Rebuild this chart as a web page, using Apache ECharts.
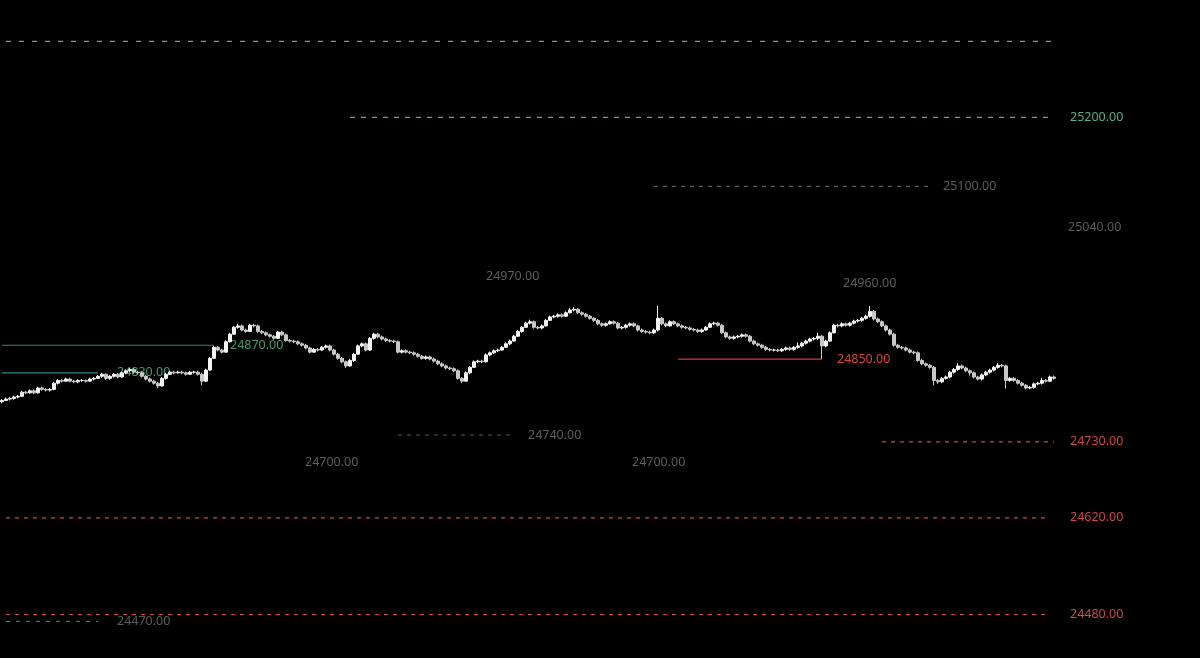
<!DOCTYPE html>
<html>
<head>
<meta charset="utf-8">
<title>candles</title>
<script src="https://cdn.jsdelivr.net/npm/echarts@6/dist/echarts.min.js"></script>
<style>
  html, body { margin: 0; padding: 0; background: #000; }
  #chart { width: 1200px; height: 658px; }
</style>
</head>
<body>
<div id="chart"></div>
<script>
// candles: [open, close, low, high]
const ohlc = [
  [24788,24790,24786,24792],[24790,24792,24789,24794],[24792,24793,24790,24795],[24793,24795,24791,24797],
  [24795,24796,24793,24798],[24796,24802,24795,24804],[24802,24801,24799,24804],[24801,24804,24800,24806],
  [24804,24801,24799,24806],[24801,24808,24800,24810],[24808,24806,24804,24810],[24806,24805,24803,24808],
  [24805,24806,24803,24808],[24806,24815,24805,24817],[24815,24819,24813,24821],[24819,24818,24816,24821],
  [24818,24821,24817,24823],[24821,24818,24816,24823],[24818,24817,24815,24820],[24817,24819,24815,24821],
  [24819,24819,24817,24821],[24819,24818,24816,24820],[24818,24821,24817,24823],[24821,24822,24819,24824],
  [24822,24825,24821,24827],[24825,24828,24823,24830],[24828,24822,24820,24829],[24822,24825,24820,24827],
  [24825,24828,24823,24830],[24828,24824,24822,24830],[24824,24830,24823,24832],[24830,24833,24828,24835],
  [24833,24835,24831,24837],[24835,24831,24829,24837],[24831,24830,24828,24833],[24830,24825,24823,24832],
  [24825,24821,24819,24827],[24821,24818,24816,24823],[24818,24815,24813,24820],[24815,24811,24808,24817],
  [24811,24822,24810,24824],[24822,24828,24820,24830],[24828,24831,24827,24833],[24831,24830,24828,24833],
  [24830,24831,24829,24833],[24831,24830,24828,24833],[24830,24828,24826,24832],[24828,24831,24827,24833],
  [24831,24831,24829,24833],[24831,24828,24826,24833],[24828,24818,24812,24830],[24818,24834,24817,24836],
  [24834,24851,24833,24853],[24851,24867,24850,24869],[24867,24863,24861,24869],[24863,24860,24858,24865],
  [24860,24875,24859,24877],[24875,24886,24874,24888],[24886,24896,24885,24898],[24896,24898,24894,24901],
  [24898,24892,24890,24900],[24892,24890,24888,24894],[24890,24899,24889,24901],[24899,24898,24896,24901],
  [24898,24890,24888,24900],[24890,24888,24886,24892],[24888,24885,24883,24890],[24885,24883,24881,24887],
  [24883,24880,24878,24885],[24880,24889,24879,24891],[24889,24885,24883,24891],[24885,24877,24875,24887],
  [24877,24876,24874,24879],[24876,24875,24873,24878],[24875,24872,24870,24877],[24872,24870,24868,24874],
  [24870,24866,24864,24872],[24866,24860,24858,24868],[24860,24864,24859,24866],[24864,24863,24861,24866],
  [24863,24867,24862,24869],[24867,24869,24865,24871],[24869,24863,24861,24871],[24863,24857,24855,24865],
  [24857,24851,24849,24859],[24851,24846,24844,24853],[24846,24840,24837,24848],[24840,24848,24839,24850],
  [24848,24857,24846,24859],[24857,24869,24856,24871],[24869,24872,24867,24874],[24872,24863,24861,24874],
  [24863,24880,24862,24882],[24880,24886,24878,24888],[24886,24882,24880,24888],[24882,24879,24877,24884],
  [24879,24877,24875,24881],[24877,24876,24874,24879],[24876,24875,24873,24878],[24875,24860,24858,24877],
  [24860,24862,24858,24864],[24862,24860,24858,24864],[24860,24859,24857,24862],[24859,24857,24855,24861],
  [24857,24854,24852,24859],[24854,24851,24849,24856],[24851,24853,24849,24855],[24853,24850,24848,24855],
  [24850,24847,24845,24852],[24847,24843,24841,24849],[24843,24840,24838,24845],[24840,24837,24835,24842],
  [24837,24836,24834,24839],[24836,24833,24831,24838],[24833,24822,24820,24835],[24822,24818,24815,24824],
  [24818,24830,24817,24832],[24830,24838,24828,24840],[24838,24846,24837,24848],[24846,24847,24844,24849],
  [24847,24846,24844,24849],[24846,24856,24845,24858],[24856,24859,24854,24861],[24859,24862,24857,24864],
  [24862,24863,24860,24865],[24863,24867,24862,24869],[24867,24872,24866,24874],[24872,24876,24870,24878],
  [24876,24883,24875,24885],[24883,24890,24882,24892],[24890,24896,24888,24898],[24896,24902,24895,24904],
  [24902,24904,24900,24907],[24904,24896,24894,24906],[24896,24895,24893,24898],[24895,24898,24893,24900],
  [24898,24906,24897,24908],[24906,24911,24905,24913],[24911,24912,24909,24914],[24912,24914,24910,24916],
  [24914,24912,24910,24916],[24912,24917,24911,24919],[24917,24921,24916,24924],[24921,24922,24919,24925],
  [24922,24917,24915,24924],[24917,24915,24913,24919],[24915,24912,24910,24917],[24912,24909,24907,24914],
  [24909,24906,24904,24911],[24906,24901,24899,24908],[24901,24899,24897,24903],[24899,24901,24897,24903],
  [24901,24904,24900,24906],[24904,24902,24900,24906],[24902,24895,24893,24904],[24895,24896,24893,24898],
  [24896,24899,24894,24901],[24899,24901,24897,24903],[24901,24898,24896,24903],[24898,24892,24890,24900],
  [24892,24890,24888,24894],[24890,24889,24887,24892],[24889,24888,24886,24891],[24888,24892,24886,24894],
  [24892,24909,24890,24927],[24909,24901,24899,24911],[24901,24898,24896,24903],[24898,24904,24897,24906],
  [24904,24901,24899,24906],[24901,24898,24896,24903],[24898,24896,24894,24900],[24896,24895,24893,24898],
  [24895,24893,24891,24897],[24893,24892,24890,24895],[24892,24890,24888,24894],[24890,24892,24888,24894],
  [24892,24896,24891,24898],[24896,24901,24895,24903],[24901,24902,24899,24904],[24902,24899,24897,24904],
  [24899,24888,24886,24901],[24888,24882,24880,24890],[24882,24880,24878,24884],[24880,24882,24878,24884],
  [24882,24883,24880,24885],[24883,24885,24881,24887],[24885,24883,24881,24887],[24883,24876,24874,24885],
  [24876,24872,24870,24878],[24872,24870,24868,24874],[24870,24867,24865,24872],[24867,24864,24862,24869],
  [24864,24863,24861,24866],[24863,24863,24861,24865],[24863,24862,24860,24865],[24862,24864,24860,24866],
  [24864,24866,24862,24868],[24866,24864,24862,24868],[24864,24867,24862,24869],[24867,24869,24865,24874],
  [24869,24873,24867,24875],[24873,24876,24871,24878],[24876,24879,24874,24881],[24879,24880,24877,24882],
  [24880,24883,24878,24888],[24883,24869,24850,24885],[24869,24876,24867,24878],[24876,24888,24875,24890],
  [24888,24899,24887,24901],[24899,24898,24896,24901],[24898,24901,24896,24903],[24901,24899,24897,24903],
  [24899,24902,24897,24904],[24902,24905,24900,24907],[24905,24906,24903,24908],[24906,24909,24904,24911],
  [24909,24912,24907,24914],[24912,24919,24910,24927],[24919,24908,24906,24921],[24908,24904,24902,24910],
  [24904,24898,24896,24906],[24898,24892,24890,24900],[24892,24886,24884,24894],[24886,24870,24868,24888],
  [24870,24867,24865,24872],[24867,24866,24864,24869],[24866,24863,24861,24868],[24863,24860,24858,24865],
  [24860,24859,24857,24862],[24859,24848,24846,24861],[24848,24843,24841,24850],[24843,24841,24839,24845],
  [24841,24838,24836,24843],[24838,24819,24812,24840],[24819,24817,24814,24821],[24817,24822,24815,24824],
  [24822,24824,24820,24826],[24824,24831,24822,24833],[24831,24835,24829,24837],[24835,24840,24833,24844],
  [24840,24837,24835,24842],[24837,24833,24831,24839],[24833,24830,24826,24835],[24830,24824,24822,24832],
  [24824,24821,24819,24826],[24821,24827,24819,24829],[24827,24831,24825,24833],[24831,24834,24829,24836],
  [24834,24838,24832,24840],[24838,24841,24836,24844],[24841,24840,24838,24843],[24840,24819,24807,24842],
  [24819,24822,24817,24824],[24822,24819,24817,24824],[24819,24815,24813,24821],[24815,24812,24810,24817],
  [24812,24808,24806,24814],[24808,24809,24806,24811],[24809,24814,24807,24816],[24814,24815,24812,24817],
  [24815,24819,24813,24823],[24819,24818,24816,24821],[24818,24824,24817,24826],[24824,24822,24820,24826]
]
const categories = ohlc.map((_, i) => String(i))

// price levels drawn on the chart (value, first candle, last candle, kind)
const levelPrices = [25310, 25200, 25100, 25040, 24970, 24960, 24870, 24830, 24850, 24740, 24700, 24700, 24730, 24620, 24480, 24470]
const levelStart = [1, 87, 163, 258, 113, 202, 0, 0, 169, 99, 67, 149, 220, 1, 1, 1]
const levelEnd = [263, 263, 232, 263, 118, 207, 53, 24, 205, 128, 72, 154, 263, 262, 262, 24]
const levelKind = ['top', 'green', 'gray', 'text', 'text', 'text', 'teal', 'teal', 'red', 'gray', 'text', 'text', 'redDash', 'redDash', 'redDash', 'muted']
const levelGap = [0, 16, 13, 14, 12, 13, 16, 19, 15, 14, 15, 14, 16, 20, 20, 19]

const kindStyle = {
  top: { line: '#64a493', type: [5, 8], label: null },
  green: { line: '#64a493', type: [5, 6], label: '#5aae8c' },
  gray: { line: '#5a5a5a', type: [4, 5], label: '#5c5c5c' },
  text: { line: null, label: '#5c5c5c' },
  teal: { line: '#2e8a84', type: 'solid', label: '#42996f' },
  red: { line: '#d23c3c', type: 'solid', label: '#d8453f' },
  redDash: { line: '#d0474f', type: [4, 5], label: '#cf474b' },
  muted: { line: '#4a6e63', type: [4, 6], label: '#5c5c5c' }
}

const labelFont = { fontSize: 12.5, fontFamily: 'Noto Sans' }

// text-only levels as mark line labels
const markData = []
// levels with a visible line as their own line series
const levelSeries = []
levelPrices.forEach((p, i) => {
  const s = kindStyle[levelKind[i]]
  if (s.line) {
    levelSeries.push({
      type: 'line',
      data: [[levelStart[i], p], [levelEnd[i], p]],
      symbol: 'none',
      silent: true,
      z: 1,
      lineStyle: { color: s.line, type: s.type, width: 1.2 },
      endLabel: s.label ? Object.assign({
        show: true,
        distance: levelGap[i],
        color: s.label,
        formatter: p.toFixed(2)
      }, labelFont) : { show: false }
    })
    return
  }
  markData.push([
    {
      coord: [levelStart[i], p],
      lineStyle: { color: 'rgba(0,0,0,0)', width: 1 },
      label: Object.assign({
        show: true,
        position: 'end',
        distance: levelGap[i],
        color: s.label,
        formatter: p.toFixed(2)
      }, labelFont)
    },
    { coord: [levelEnd[i], p] }
  ])
})

const myChart = echarts.init(document.getElementById('chart'))
myChart.setOption({
  backgroundColor: '#000',
  animation: false,
  grid: { left: 0, right: 144, top: 0, bottom: 0 },
  xAxis: {
    type: 'category',
    data: categories,
    show: false
  },
  yAxis: {
    type: 'value',
    min: 24417,
    max: 25370,
    show: false,
    splitLine: { show: false }
  },
  series: [
    {
      type: 'candlestick',
      data: ohlc,
      barWidth: 2.8,
      z: 3,
      itemStyle: {
        color: '#f4f4f4',
        color0: '#c8c8c8',
        borderColor: '#f4f4f4',
        borderColor0: '#c8c8c8',
        borderWidth: 1
      },
      markLine: {
        silent: true,
        symbol: ['none', 'none'],
        data: markData
      }
    }
  ].concat(levelSeries)
})
</script>
</body>
</html>
